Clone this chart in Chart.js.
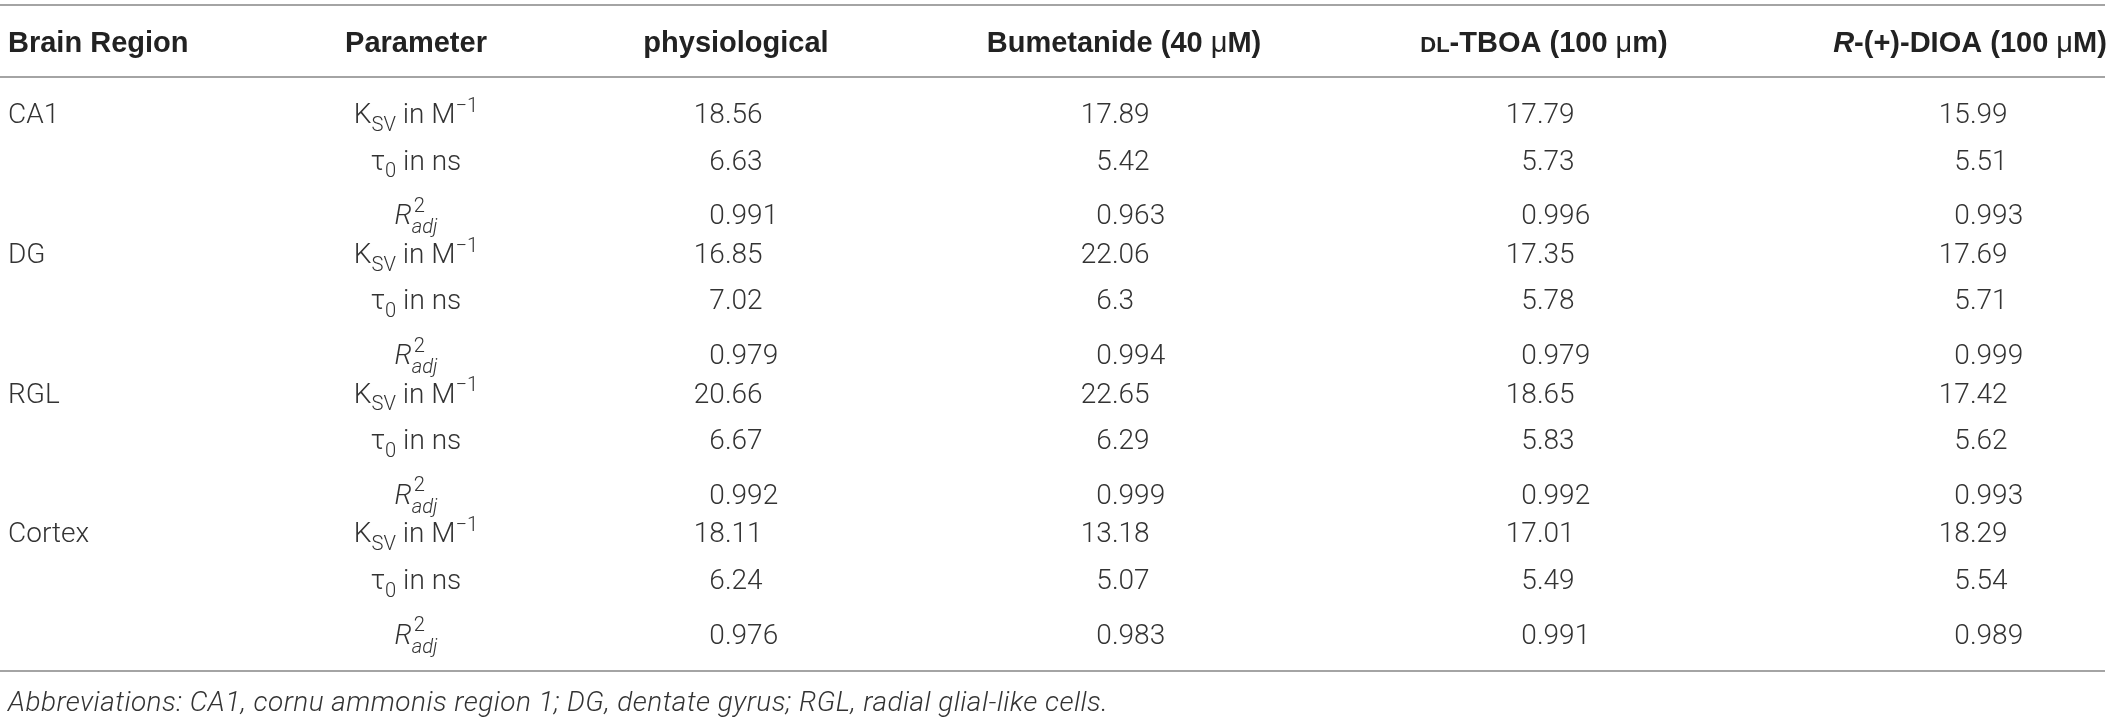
<!DOCTYPE html>
<html>
<head>
<meta charset="utf-8">
<title>Stern-Volmer parameters by brain region</title>
<script src="https://cdn.jsdelivr.net/npm/chart.js@4.4.1/dist/chart.umd.min.js"></script>
<style>
  html, body { margin: 0; padding: 0; background: #fff; }
  #wrap { width: 2123px; height: 719px; }
</style>
</head>
<body>
<div id="wrap"><canvas id="table" width="2123" height="719"></canvas></div>
<script>
// table content, one value per row (3 parameters x 4 regions)
const regions = ['CA1', 'DG', 'RGL', 'Cortex'];
const parameterKeys = ['ksv', 'tau', 'r2'];
const physiological = [18.56, 6.63, 0.991, 16.85, 7.02, 0.979, 20.66, 6.67, 0.992, 18.11, 6.24, 0.976];
const bumetanide = [17.89, 5.42, 0.963, 22.06, 6.3, 0.994, 22.65, 6.29, 0.999, 13.18, 5.07, 0.983];
const tboa = [17.79, 5.73, 0.996, 17.35, 5.78, 0.979, 18.65, 5.83, 0.992, 17.01, 5.49, 0.991];
const dioa = [15.99, 5.51, 0.993, 17.69, 5.71, 0.999, 17.42, 5.62, 0.993, 18.29, 5.54, 0.989];
const footnote = 'Abbreviations: CA1, cornu ammonis region 1; DG, dentate gyrus; RGL, radial glial-like cells.';

// header / parameter labels as rich text pieces
const headers = [
  ['Brain Region'],
  ['Parameter'],
  ['physiological'],
  ['Bumetanide (40 ', { t: 'μ', weight: 'normal' }, 'M)'],
  [{ t: 'DL', scale: 0.76 }, '-TBOA (100 ', { t: 'μ', weight: 'normal' }, 'm)'],
  [{ t: 'R', italic: true }, '-(+)-DIOA (100 ', { t: 'μ', weight: 'normal' }, 'M)']
];
const paramLabels = {
  ksv: ['K', { t: 'SV', sub: true }, ' in M', { t: '\u22121', sup: true }],
  tau: ['\u03c4', { t: '0', sub: true }, ' in ns'],
  r2: [{ t: 'R', italic: true }, { stack: ['2', 'adj'] }]
};

const HEAD_FONT = '"Liberation Sans", Arial, Helvetica, sans-serif';
const BODY_FONT = 'Roboto, "Liberation Sans", Arial, sans-serif';
const layout = {
  regionX: 8,
  paramX: 416,
  valueX: [736, 1123, 1548, 1981],
  headerX: [8, 416, 736, 1124, 1544, 1970],
  headerRow: -1.524,
  rules: [-2.318, -0.773, 11.974],
  footRow: 12.618,
  ruleEnd: 2105,
  // R2 rows sit a little lower because of the stacked scripts
  rowShift: { ksv: 0, tau: 0, r2: 8 }
};

function pieceFont(p, size, weight, family) {
  return (p.italic ? 'italic ' : '') + (p.weight || weight) + ' ' + size + 'px ' + family;
}

function layoutRich(ctx, segs, size, weight, family) {
  let w = 0;
  const pieces = [];
  segs.forEach(s => {
    if (typeof s === 'string') s = { t: s };
    if (s.stack) {
      const ss = size * 0.72;
      const f1 = pieceFont({}, ss, weight, family);
      const f2 = pieceFont({ italic: true }, ss, weight, family);
      ctx.font = f1; const w1 = ctx.measureText(s.stack[0]).width;
      ctx.font = f2; const w2 = ctx.measureText(s.stack[1]).width;
      pieces.push({ t: s.stack[0], x: w + 2, dy: -size * 0.44, font: f1 });
      pieces.push({ t: s.stack[1], x: w, dy: size * 0.32, font: f2 });
      w += Math.max(w1 + 2, w2);
      return;
    }
    const small = s.sub || s.sup;
    const sz = size * (small ? 0.72 : (s.scale || 1));
    const dy = s.sub ? size * 0.28 : s.sup ? -size * 0.4 : 0;
    const font = pieceFont(s, sz, weight, family);
    ctx.font = font;
    pieces.push({ t: s.t, x: w, dy, font });
    w += ctx.measureText(s.t).width;
  });
  return { w, pieces };
}

function drawRich(ctx, segs, x, baseline, size, weight, family, align) {
  const r = layoutRich(ctx, segs, size, weight, family);
  const x0 = align === 'center' ? x - r.w / 2 : x;
  r.pieces.forEach(p => {
    ctx.font = p.font;
    ctx.fillText(p.t, x0 + p.x, baseline + p.dy);
  });
}

const tablePlugin = {
  id: 'tableText',
  afterDatasetsDraw(chart) {
    const { ctx, scales: { x, y } } = chart;
    ctx.save();
    ctx.textBaseline = 'alphabetic';
    ctx.textAlign = 'left';

    // horizontal rules
    ctx.strokeStyle = '#a4a4a4';
    ctx.lineWidth = 2;
    layout.rules.forEach(r => {
      const py = Math.round(y.getPixelForValue(r));
      ctx.beginPath();
      ctx.moveTo(x.getPixelForValue(0), py);
      ctx.lineTo(x.getPixelForValue(layout.ruleEnd), py);
      ctx.stroke();
    });

    // column headers
    ctx.fillStyle = '#222';
    const hy = y.getPixelForValue(layout.headerRow) + 10.5;
    headers.forEach((h, c) => {
      drawRich(ctx, h, x.getPixelForValue(layout.headerX[c]), hy, 29, 'bold', HEAD_FONT, c === 0 ? 'left' : 'center');
    });

    // body cells, positioned by the dataset elements
    ctx.fillStyle = '#333';
    const size = 28;
    const shift = i => layout.rowShift[parameterKeys[i % parameterKeys.length]];
    chart.data.datasets.forEach((ds, d) => {
      const meta = chart.getDatasetMeta(d);
      if (ds.kind === 'value') {
        // decimal-aligned numbers, block centred on the column
        ctx.font = pieceFont({}, size, 300, BODY_FONT);
        const parts = ds.data.map(v => String(v.v).split('.'));
        const intW = Math.max(...parts.map(p => ctx.measureText(p[0]).width));
        const fracW = Math.max(...parts.map(p => ctx.measureText('.' + p[1]).width));
        meta.data.forEach((el, i) => {
          const dec = el.x - (intW + fracW) / 2 + intW;
          const by = el.y + 10 + shift(i);
          ctx.textAlign = 'right';
          ctx.fillText(parts[i][0], dec, by);
          ctx.textAlign = 'left';
          ctx.fillText('.' + parts[i][1], dec, by);
        });
      } else if (ds.kind === 'region') {
        meta.data.forEach((el, i) => {
          drawRich(ctx, [ds.data[i].label], el.x, el.y + 10, size, 300, BODY_FONT, 'left');
        });
      } else {
        meta.data.forEach((el, i) => {
          drawRich(ctx, paramLabels[ds.data[i].label], el.x, el.y + 10 + shift(i), size, 300, BODY_FONT, 'center');
        });
      }
    });

    // footnote
    ctx.textAlign = 'left';
    ctx.font = 'italic 300 28px ' + BODY_FONT;
    ctx.letterSpacing = '0.45px';
    ctx.fillText(footnote, x.getPixelForValue(layout.regionX), y.getPixelForValue(layout.footRow) + 9.5);
    ctx.restore();
  }
};

const rowCount = regions.length * parameterKeys.length;
const valueSeries = [physiological, bumetanide, tboa, dioa];
const datasets = [
  {
    kind: 'region',
    data: regions.map((r, i) => ({ x: layout.regionX, y: i * parameterKeys.length, label: r }))
  },
  {
    kind: 'param',
    data: Array.from({ length: rowCount }, (_, i) => ({
      x: layout.paramX, y: i, label: parameterKeys[i % parameterKeys.length]
    }))
  },
  ...valueSeries.map((series, c) => ({
    kind: 'value',
    data: series.map((v, i) => ({ x: layout.valueX[c], y: i, v }))
  }))
];
datasets.forEach(ds => { ds.pointRadius = 0; ds.pointHoverRadius = 0; });

new Chart(document.getElementById('table'), {
  type: 'scatter',
  data: { datasets },
  options: {
    responsive: false,
    animation: false,
    devicePixelRatio: 1,
    layout: { padding: 0 },
    events: [],
    plugins: { legend: { display: false }, tooltip: { enabled: false } },
    scales: {
      x: { type: 'linear', min: 0, max: 2123, display: false },
      y: { type: 'linear', min: -2.425, max: 13.004, reverse: true, display: false }
    }
  },
  plugins: [tablePlugin]
});
</script>
</body>
</html>
